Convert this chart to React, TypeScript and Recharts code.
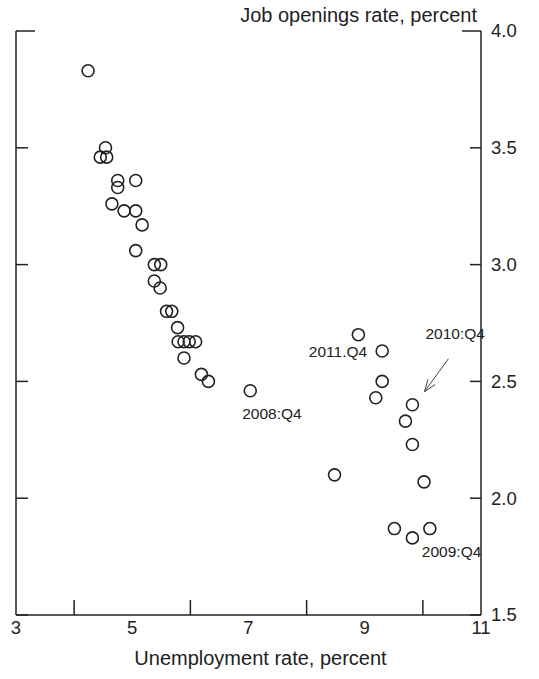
import { ScatterChart, Scatter, XAxis, YAxis } from 'recharts'

// unemployment rate (x) vs job openings rate (y), one point per quarter
const unemployment = [
  4.24, 4.54, 4.45, 4.56, 4.75, 5.06, 4.75, 4.65, 4.86, 5.06,
  5.17, 5.06, 5.38, 5.49, 5.38, 5.48, 5.59, 5.68, 5.78, 5.79,
  5.89, 5.98, 6.09, 5.89, 6.19, 6.31, 7.03, 8.89, 9.3, 9.3,
  9.19, 9.82, 9.7, 9.82, 8.48, 10.02, 9.51, 9.82, 10.12,
]
const jobOpenings = [
  3.83, 3.5, 3.46, 3.46, 3.36, 3.36, 3.33, 3.26, 3.23, 3.23,
  3.17, 3.06, 3.0, 3.0, 2.93, 2.9, 2.8, 2.8, 2.73, 2.67,
  2.67, 2.67, 2.67, 2.6, 2.53, 2.5, 2.46, 2.7, 2.63, 2.5,
  2.43, 2.4, 2.33, 2.23, 2.1, 2.07, 1.87, 1.83, 1.87,
]

const xTicks = [3, 4, 5, 6, 7, 8, 9, 10, 11]
const xTickLabels = [3, 5, 7, 9, 11]
const yTicks = [1.5, 2, 2.5, 3, 3.5, 4]

const noteLabels = ['2008:Q4', '2011.Q4', '2010:Q4', '2009:Q4']
const noteX = [7.03, 9.3, 9.82, 10.12]
const noteY = [2.46, 2.63, 2.4, 1.87]

const points = unemployment.map((x, i) => ({ x, y: jobOpenings[i] }))
const notes = noteLabels.map((label, i) => ({ x: noteX[i], y: noteY[i], label }))

// where each label sits relative to its point
const notePlacement: { [key: string]: { dx: number; dy: number; anchor: string; arrow?: boolean } } = {
  '2008:Q4': { dx: -8, dy: 23, anchor: 'start' },
  '2011.Q4': { dx: -15, dy: 1, anchor: 'end' },
  '2010:Q4': { dx: 13, dy: -71, anchor: 'start', arrow: true },
  '2009:Q4': { dx: -8, dy: 23, anchor: 'start' },
}

const ink = '#222'
const font = '"Liberation Sans", Arial, sans-serif'

const Ring = (props: any) => (
  <circle cx={props.cx} cy={props.cy} r={6} fill="none" stroke={ink} strokeWidth={1.6} />
)

const Note = (props: any) => {
  const { cx, cy, payload } = props
  const p = notePlacement[payload.label]
  let arrow = null
  if (p.arrow) {
    const x1 = cx + 36, y1 = cy - 46
    const x2 = cx + 12, y2 = cy - 13
    const ang = Math.atan2(y2 - y1, x2 - x1)
    const len = 13
    const spread = 0.35
    const ax = x2 - len * Math.cos(ang - spread), ay = y2 - len * Math.sin(ang - spread)
    const bx = x2 - len * Math.cos(ang + spread), by = y2 - len * Math.sin(ang + spread)
    arrow = (
      <g stroke="#444" strokeWidth={1} fill="none">
        <line x1={x1} y1={y1} x2={x2} y2={y2} />
        <polyline points={`${ax},${ay} ${x2},${y2} ${bx},${by}`} />
      </g>
    )
  }
  return (
    <g>
      <text x={cx + p.dx} y={cy + p.dy} dy="0.35em" textAnchor={p.anchor} fontSize={15.5} fontFamily={font} fill={ink}>
        {payload.label}
      </text>
      {arrow}
    </g>
  )
}

const XTick = (props: any) => {
  const { x, y, payload } = props
  if (xTickLabels.includes(payload.value)) {
    return (
      <text x={x} y={y + 19} textAnchor="middle" fontSize={18.5} fontFamily={font} fill={ink}>
        {payload.value}
      </text>
    )
  }
  return <line x1={x} y1={y} x2={x} y2={y - 15} stroke={ink} strokeWidth={1.5} />
}

const RightTick = (props: any) => {
  const { x, y, payload } = props
  const len = payload.value === 4 ? 19 : 11
  return (
    <g>
      <line x1={x - len} y1={y} x2={x} y2={y} stroke={ink} strokeWidth={1.5} />
      <text x={x + 10} y={y} dy="0.35em" textAnchor="start" fontSize={18.5} fontFamily={font} fill={ink}>
        {payload.value.toFixed(1)}
      </text>
    </g>
  )
}

const LeftTick = (props: any) => {
  const { x, y, payload } = props
  const len = payload.value === 4 ? 19 : 12
  return <line x1={x} y1={y} x2={x + len} y2={y} stroke={ink} strokeWidth={1.5} />
}

export default function App() {
  return (
    <div style={{ position: 'absolute', left: 0, top: 0, background: '#fff' }}>
      <ScatterChart width={539} height={679} margin={{ top: 31, right: 0, bottom: 0, left: 15 }}>
        <XAxis
          dataKey="x"
          type="number"
          domain={[3, 11]}
          ticks={xTicks}
          interval={0}
          height={64}
          tickSize={0}
          tickMargin={0}
          tickLine={false}
          axisLine={{ stroke: ink, strokeWidth: 1.5 }}
          tick={XTick}
          label={{
            content: (p: any) => (
              <text
                x={p.viewBox.x + p.viewBox.width / 2 + 12}
                y={p.viewBox.y + 50}
                textAnchor="middle"
                fontSize={20}
                fontFamily={font}
                fill={ink}
              >
                Unemployment rate, percent
              </text>
            ),
          }}
        />
        <YAxis
          yAxisId="left"
          orientation="left"
          dataKey="y"
          type="number"
          domain={[1.5, 4]}
          ticks={yTicks}
          interval={0}
          width={1}
          tickSize={0}
          tickMargin={0}
          tickLine={false}
          axisLine={{ stroke: ink, strokeWidth: 1.5 }}
          tick={LeftTick}
        />
        <YAxis
          yAxisId="right"
          orientation="right"
          dataKey="y"
          type="number"
          domain={[1.5, 4]}
          ticks={yTicks}
          interval={0}
          width={58}
          tickSize={0}
          tickMargin={0}
          tickLine={false}
          axisLine={{ stroke: ink, strokeWidth: 1.5 }}
          tick={RightTick}
          label={{
            content: (p: any) => (
              <text
                x={p.viewBox.x - 4}
                y={p.viewBox.y - 16}
                dy="0.35em"
                textAnchor="end"
                fontSize={20}
                fontFamily={font}
                fill={ink}
              >
                Job openings rate, percent
              </text>
            ),
          }}
        />
        <Scatter yAxisId="left" data={points} shape={Ring} isAnimationActive={false} />
        <Scatter yAxisId="right" data={notes} shape={Note} isAnimationActive={false} />
      </ScatterChart>
    </div>
  )
}
